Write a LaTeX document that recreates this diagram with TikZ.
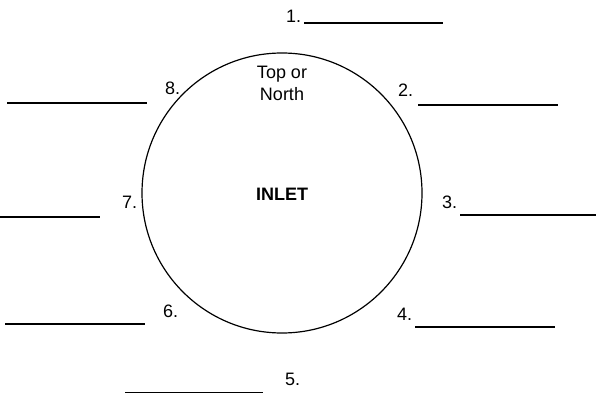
\documentclass[tikz,border=0pt]{standalone}
\usepackage{fontspec}
\setmainfont{Liberation Sans}
\begin{document}
\begin{tikzpicture}[x=1pt,y=1pt,
  lbl/.style={anchor=base west,inner sep=0pt,font=\fontsize{18}{21}\selectfont},
  blank/.style={line width=1.4pt},
  ring/.style={draw,circle,line width=1.2pt,minimum size=280pt,inner sep=0pt}]
\useasboundingbox (0,0) rectangle (596,394);
\node[ring] (inlet) at (282,201) {};
\node[font=\fontsize{18}{21}\selectfont\bfseries] (inlettext) at (282,200) {INLET};
\node[align=center,inner sep=0pt,anchor=north,font=\fontsize{18}{22}\selectfont] (top) at (282,328) {Top or\\North};
% numbered labels
\node[lbl] (n1) at (286,371) {1.};
\node[lbl] (n2) at (398,297) {2.};
\node[lbl] (n3) at (442,186) {3.};
\node[lbl] (n4) at (397,74) {4.};
\node[lbl] (n5) at (285,9) {5.};
\node[lbl] (n6) at (163,77) {6.};
\node[lbl] (n7) at (122,186) {7.};
\node[lbl] (n8) at (165,299) {8.};
% answer blanks
\coordinate (a1) at (304,371); \coordinate (b1) at (443,371);
\coordinate (a2) at (418,289); \coordinate (b2) at (558,289);
\coordinate (a3) at (460,179); \coordinate (b3) at (596,179);
\coordinate (a4) at (415,67);  \coordinate (b4) at (555,67);
\coordinate (a5) at (125,1.5); \coordinate (b5) at (263,1.5);
\coordinate (a6) at (5,70);    \coordinate (b6) at (145,70);
\coordinate (a7) at (0,177);   \coordinate (b7) at (100,177);
\coordinate (a8) at (7,291);   \coordinate (b8) at (147,291);
\foreach \i in {1,...,8} \draw[blank] (a\i) -- (b\i);
\end{tikzpicture}
\end{document}
